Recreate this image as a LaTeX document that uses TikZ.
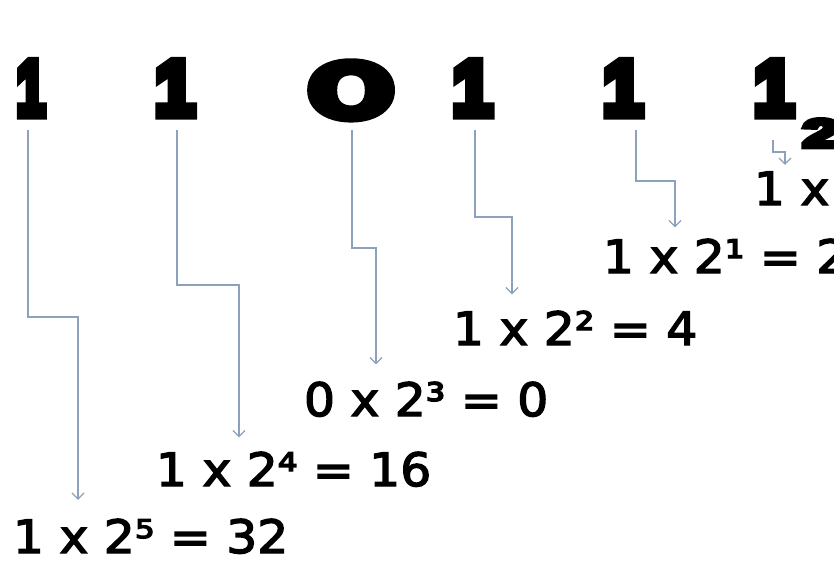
\documentclass[tikz,border=0pt]{standalone}
\usepackage{fontspec}
\setmainfont{DejaVu Sans}
\newfontfamily\labfont{DejaVu Sans}[FakeStretch=1.06,FakeBold=3]
\newfontfamily\heavyfont{Liberation Sans Bold}[FakeBold=12]
\newfontfamily\zerofont{Fira Sans Bold}[Numbers=OldStyle,FakeBold=6]
\usetikzlibrary{arrows.meta}
\definecolor{connc}{RGB}{140,162,188}
\newcommand\heavy[3]{\scalebox{#1}[#2]{\heavyfont\fontsize{50}{50}\selectfont #3}}
\newcommand\heavyzero[2]{\scalebox{#1}[#2]{\zerofont\fontsize{50}{50}\selectfont 0}}
\begin{document}
\begin{tikzpicture}[x=1pt,y=-1pt,
  conn/.style={draw=connc, line width=1.3pt, -{Straight Barb[length=6pt,width=12pt]}},
  dig/.style={inner sep=0pt, outer sep=0pt, anchor=south},
  lab/.style={inner sep=0pt, outer sep=0pt, anchor=base west, font=\labfont\fontsize{46}{50}\selectfont}]
\useasboundingbox (0,0) rectangle (834,560);
\fill[white] (0,0) rectangle (834,560);
% big binary digits
\node[dig] (d5) at (31,115) {\heavy{1.03}{1.555}{1}};
\node[dig] (d4) at (175,115) {\heavy{1.42}{1.555}{1}};
\node[dig] (d3) at (351,119.6) {\heavyzero{2.78}{1.95}};
\node[dig] (d2) at (472.5,115) {\heavy{1.42}{1.555}{1}};
\node[dig] (d1) at (623,115) {\heavy{1.42}{1.555}{1}};
\node[dig] (d0) at (774,115) {\heavy{1.42}{1.555}{1}};
\node[inner sep=0pt, outer sep=0pt, anchor=base west] (sub) at (803,147) {\heavy{1.3}{0.79}{2}};
% labels
\node[lab] (l5) at (13,553) {1 x 2⁵ = 32};
\node[lab] (l4) at (156,486) {1 x 2⁴ = 16};
\node[lab] (l3) at (304,416) {0 x 2³ = 0};
\node[lab] (l2) at (453,345) {1 x 2² = 4};
\node[lab] (l1) at (603,273) {1 x 2¹ = 2};
\node[lab] (l0) at (754,205) {1 x};
% bend points
\coordinate (k5) at (78,317);
\coordinate (k4) at (239,285);
\coordinate (k3) at (376,248);
\coordinate (k2) at (512,217);
\coordinate (k1) at (675,181);
\coordinate (k0) at (785,152);
% connectors
\draw[conn, shorten <=15pt, shorten >=19pt] ([xshift=-3pt]d5.south) |- (k5) -- (k5 |- l5.north);
\draw[conn, shorten <=15pt, shorten >=14.5pt] ([xshift=2pt]d4.south) |- (k4) -- (k4 |- l4.north);
\draw[conn, shorten <=10.4pt, shorten >=17.5pt] ([xshift=1pt]d3.south) |- (k3) -- (k3 |- l3.north);
\draw[conn, shorten <=15pt, shorten >=16.5pt] ([xshift=2.5pt]d2.south) |- (k2) -- (k2 |- l2.north);
\draw[conn, shorten <=15pt, shorten >=11.5pt] ([xshift=13pt]d1.south) |- (k1) -- (k1 |- l1.north);
\draw[conn, shorten <=25pt, shorten >=6.5pt] ([xshift=-1pt]d0.south) |- (k0) -- (k0 |- l0.north);
\end{tikzpicture}
\end{document}
